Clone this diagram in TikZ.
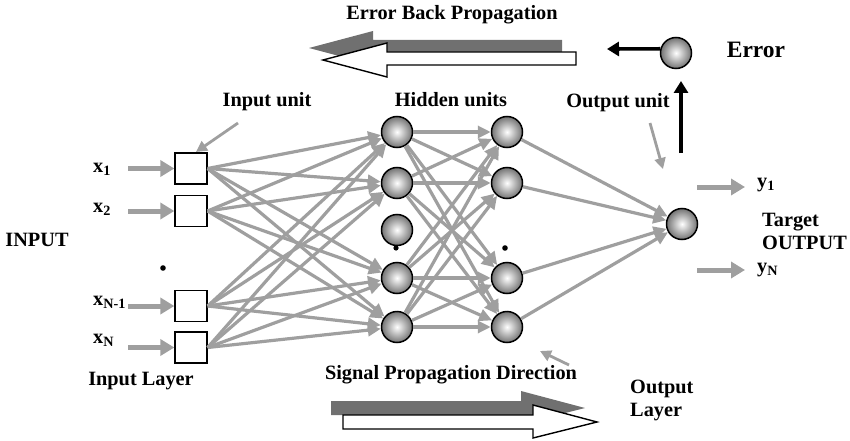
\documentclass[tikz,border=0pt]{standalone}
\usepackage{fontspec}
\setmainfont{Liberation Serif}
\usetikzlibrary{arrows.meta}
\begin{document}
\begin{tikzpicture}[x=1pt,y=-1pt,
  font=\bfseries\fontsize{20.3}{23}\selectfont,
  unit/.style={circle, draw=black, line width=1.5pt, minimum size=31pt, inner sep=0pt,
    inner color=white, outer color=black!55},
  inbox/.style={rectangle, draw=black, line width=1.3pt, fill=white,
    minimum width=32pt, minimum height=31pt, inner sep=0pt},
  conn/.style={draw=gray!75, line width=3.2pt, -{Triangle[length=13pt,width=12pt]}},
  feed/.style={draw=gray!75, line width=5pt, -{Triangle[length=14pt,width=16pt]}},
  pointer/.style={draw=gray!75, line width=2.8pt, -{Triangle[length=11pt,width=11pt]}},
  blackarrow/.style={draw=black, line width=3.6pt, -{Triangle[length=12pt,width=14pt]}},
  hollow/.style={draw=black, line width=1.4pt, fill=white},
  shadowarrow/.style={fill=black!56, draw=none},
  lbl/.style={inner sep=0pt},
  dotmark/.style={fill=black}]
\useasboundingbox (0,0) rectangle (850,441);

% ---- big propagation arrows ----
\fill[shadowarrow, shift={(-14,-12)}] (576,52) -- (387,52) -- (387,43) -- (323,60) -- (387,77) -- (387,65) -- (576,65) -- cycle;
\draw[hollow] (576,52) -- (387,52) -- (387,43) -- (323,60) -- (387,77) -- (387,65) -- (576,65) -- cycle;
\fill[shadowarrow, shift={(-12,-14)}] (343,415) -- (533,415) -- (533,405) -- (597,422) -- (533,438) -- (533,429) -- (343,429) -- cycle;
\draw[hollow] (343,415) -- (533,415) -- (533,405) -- (597,422) -- (533,438) -- (533,429) -- (343,429) -- cycle;

% ---- nodes ----
\node[inbox] (i1) at (191,168.5) {};
\node[inbox] (i2) at (191,211) {};
\node[inbox] (i3) at (191,306) {};
\node[inbox] (i4) at (191,347.5) {};

\foreach \k/\y in {1/132,2/183,3/230,4/278,5/327}
  \node[unit] (a\k) at (397,\y) {};
\foreach \k/\y in {1/132,2/183,4/278,5/327}
  \node[unit] (b\k) at (507,\y) {};
\node[unit] (o) at (682,224) {};
\node[unit] (e) at (676,53) {};

% ---- dots ----
\fill[dotmark] (163,268) circle (2.8);
\fill[dotmark] (396,248) circle (2.6);
\fill[dotmark] (505,248) circle (2.8);

% ---- connections ----
\foreach \i in {1,2,3,4}
  \foreach \k in {1,2,4,5}
    \draw[conn] (i\i.east) -- (a\k);
\foreach \i in {1,2,4,5}
  \foreach \k in {1,2,4,5}
    \draw[conn] (a\i) -- (b\k);
\foreach \i in {1,2,4,5}
  \draw[conn] (b\i) -- (o);

% ---- input feed arrows ----
\coordinate (s1) at (128,168.5);
\coordinate (s2) at (128,211);
\coordinate (s3) at (128,306);
\coordinate (s4) at (128,347.5);
\foreach \i in {1,2,3,4}
  \draw[feed] (s\i) -- (i\i.west);

% ---- output arrows ----
\coordinate (y1s) at (697,187);
\coordinate (y1e) at (745,187);
\coordinate (yNs) at (697,270);
\coordinate (yNe) at (745,270);
\draw[feed] (y1s) -- (y1e);
\draw[feed] (yNs) -- (yNe);

% ---- pointer arrows ----
\coordinate (p1s) at (238,123);
\coordinate (p1e) at (196,152);
\draw[pointer] (p1s) -- (p1e);
\coordinate (p2s) at (650,123);
\coordinate (p2e) at (663,169);
\draw[pointer] (p2s) -- (p2e);
\coordinate (p3s) at (569,365);
\coordinate (p3e) at (540,351);
\draw[pointer] (p3s) -- (p3e);

% ---- error arrows ----
\coordinate (errL) at (607,49);
\draw[blackarrow] (e.165) -- (errL);
\coordinate (upB) at (681,153);
\coordinate (upT) at (681,81);
\draw[blackarrow] (upB) -- (upT);

% ---- labels ----
\node[lbl] (tEBP) at (452,15) {Error Back Propagation};
\node[lbl] (tErr) at (756,50) {\fontsize{23.5}{26}\selectfont Error};
\node[lbl] (tIU) at (267,102) {Input unit};
\node[lbl] (tHU) at (451,100) {Hidden units};
\node[lbl] (tOU) at (618,103) {Output unit};
\node[lbl] (tIN) at (37,240) {INPUT};
\node[lbl] (tIL) at (141,381) {Input Layer};
\node[lbl] (tSPD) at (451,375) {Signal Propagation Direction};
\node[lbl, anchor=west, align=left] (tOL) at (630,400) {\fontsize{20.3}{19.5}\selectfont Output\\Layer};
\node[lbl, anchor=west, align=left] (tTO) at (762,231) {\fontsize{20.3}{24}\selectfont Target\\OUTPUT};
\node[lbl, anchor=base west] (x1) at (93,172) {x\textsubscript{1}};
\node[lbl, anchor=base west] (x2) at (93,212) {x\textsubscript{2}};
\node[lbl, anchor=base west] (x3) at (93,305) {x\textsubscript{N-1}};
\node[lbl, anchor=base west] (x4) at (93,343) {x\textsubscript{N}};
\node[lbl, anchor=base west] (y1) at (757,187) {y\textsubscript{1}};
\node[lbl, anchor=base west] (yN) at (757,272) {y\textsubscript{N}};
\end{tikzpicture}
\end{document}
